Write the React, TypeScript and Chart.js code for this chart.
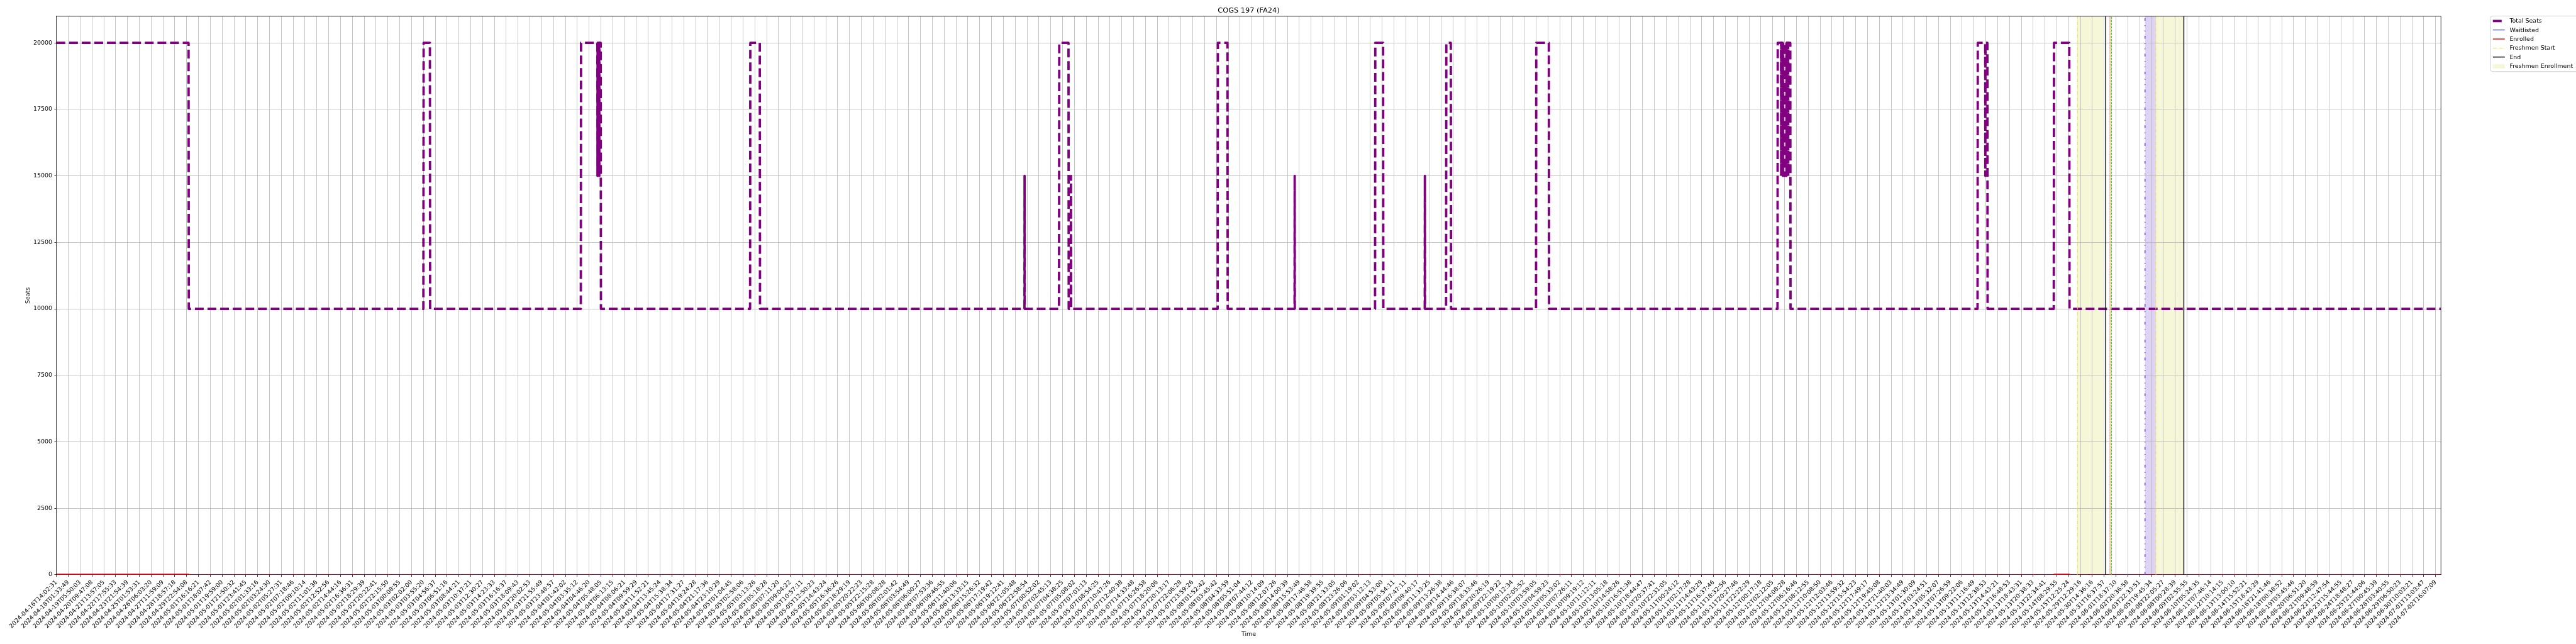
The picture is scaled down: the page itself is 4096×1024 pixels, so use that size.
import React, { useEffect, useRef } from "react";
import { Chart, registerables } from "chart.js";

Chart.register(...registerables);

// ---------------- data ----------------
const xTickLabels = [
  "2024-04-16T14:02:31", "2024-04-18T01:33:49", "2024-04-19T05:50:03", "2024-04-20T09:47:08",
  "2024-04-21T13:57:05", "2024-04-22T17:55:33", "2024-04-23T21:54:39", "2024-04-25T01:53:31",
  "2024-04-26T06:03:20", "2024-04-27T11:59:09", "2024-04-28T18:57:18", "2024-04-29T22:54:08",
  "2024-05-01T16:16:21", "2024-05-01T18:07:42", "2024-05-01T19:59:00", "2024-05-01T21:50:32",
  "2024-05-01T23:41:45", "2024-05-02T01:33:16", "2024-05-02T03:24:30", "2024-05-02T05:27:31",
  "2024-05-02T07:18:46", "2024-05-02T09:10:14", "2024-05-02T11:01:36", "2024-05-02T12:52:56",
  "2024-05-02T14:44:16", "2024-05-02T16:36:31", "2024-05-02T18:29:39", "2024-05-02T20:22:41",
  "2024-05-02T22:15:50", "2024-05-03T00:08:55", "2024-05-03T02:02:00", "2024-05-03T03:55:20",
  "2024-05-03T04:56:37", "2024-05-03T06:51:16", "2024-05-03T08:44:21", "2024-05-03T10:37:21",
  "2024-05-03T12:30:27", "2024-05-03T14:23:33", "2024-05-03T16:16:37", "2024-05-03T18:09:43",
  "2024-05-03T20:02:53", "2024-05-03T21:55:49", "2024-05-03T23:48:57", "2024-05-04T01:42:02",
  "2024-05-04T03:35:12", "2024-05-04T04:46:20", "2024-05-04T05:48:05", "2024-05-04T06:13:15",
  "2024-05-04T08:06:21", "2024-05-04T09:59:29", "2024-05-04T11:52:21", "2024-05-04T13:45:24",
  "2024-05-04T15:38:34", "2024-05-04T17:31:27", "2024-05-04T19:24:28", "2024-05-04T21:17:36",
  "2024-05-04T23:10:29", "2024-05-05T01:04:45", "2024-05-05T02:58:06", "2024-05-05T03:13:26",
  "2024-05-05T05:18:28", "2024-05-05T07:11:20", "2024-05-05T09:04:22", "2024-05-05T10:57:11",
  "2024-05-05T12:50:23", "2024-05-05T14:43:24", "2024-05-05T16:36:26", "2024-05-05T18:29:19",
  "2024-05-05T20:22:23", "2024-05-05T22:15:28", "2024-05-06T00:08:28", "2024-05-06T02:01:42",
  "2024-05-06T03:54:49", "2024-05-06T06:00:27", "2024-05-06T07:53:36", "2024-05-06T09:46:55",
  "2024-05-06T11:40:06", "2024-05-06T13:33:15", "2024-05-06T15:26:32", "2024-05-06T17:19:42",
  "2024-05-06T19:12:41", "2024-05-06T21:05:48", "2024-05-06T22:58:54", "2024-05-07T00:52:02",
  "2024-05-07T02:45:13", "2024-05-07T04:38:25", "2024-05-07T05:08:02", "2024-05-07T07:01:13",
  "2024-05-07T08:54:25", "2024-05-07T10:47:26", "2024-05-07T12:40:38", "2024-05-07T14:33:48",
  "2024-05-07T16:26:58", "2024-05-07T18:20:06", "2024-05-07T20:13:17", "2024-05-07T22:06:28",
  "2024-05-07T23:59:26", "2024-05-08T01:52:42", "2024-05-08T03:45:42", "2024-05-08T04:33:59",
  "2024-05-08T05:51:04", "2024-05-08T07:44:12", "2024-05-08T10:14:09", "2024-05-08T12:07:26",
  "2024-05-08T14:00:39", "2024-05-08T15:53:49", "2024-05-08T17:46:58", "2024-05-08T19:39:55",
  "2024-05-08T21:33:05", "2024-05-08T23:26:06", "2024-05-09T01:19:02", "2024-05-09T03:12:13",
  "2024-05-09T04:53:00", "2024-05-09T05:54:11", "2024-05-09T07:47:11", "2024-05-09T09:40:17",
  "2024-05-09T11:33:25", "2024-05-09T13:26:38", "2024-05-09T14:44:46", "2024-05-09T16:38:07",
  "2024-05-09T18:33:46", "2024-05-09T20:26:19", "2024-05-09T22:19:22", "2024-05-10T00:12:34",
  "2024-05-10T02:05:52", "2024-05-10T03:59:05", "2024-05-10T04:59:23", "2024-05-10T05:33:02",
  "2024-05-10T07:26:11", "2024-05-10T09:19:12", "2024-05-10T11:12:11", "2024-05-10T13:05:18",
  "2024-05-10T14:58:26", "2024-05-10T16:51:38", "2024-05-10T18:44:47", "2024-05-10T20:37:41",
  "2024-05-10T22:31:05", "2024-05-11T00:24:12", "2024-05-11T02:17:28", "2024-05-11T14:43:29",
  "2024-05-11T16:37:46", "2024-05-11T18:32:56", "2024-05-11T20:27:46", "2024-05-11T22:22:29",
  "2024-05-12T00:17:18", "2024-05-12T02:12:05", "2024-05-12T04:08:28", "2024-05-12T06:16:46",
  "2024-05-12T08:12:55", "2024-05-12T10:08:50", "2024-05-12T12:03:46", "2024-05-12T13:59:32",
  "2024-05-12T15:54:23", "2024-05-12T17:49:17", "2024-05-12T19:45:08", "2024-05-12T21:40:03",
  "2024-05-12T23:34:49", "2024-05-13T01:30:09", "2024-05-13T03:24:51", "2024-05-13T05:32:07",
  "2024-05-13T07:26:59", "2024-05-13T09:22:06", "2024-05-13T11:16:49", "2024-05-13T12:38:53",
  "2024-05-13T14:43:21", "2024-05-13T16:48:53", "2024-05-13T18:43:31", "2024-05-13T20:38:33",
  "2024-05-13T22:34:41", "2024-05-14T08:29:55", "2024-05-15T12:25:24", "2024-05-29T12:29:16",
  "2024-05-30T14:36:16", "2024-05-31T16:37:57", "2024-06-01T18:37:10", "2024-06-02T20:36:58",
  "2024-06-03T22:33:51", "2024-06-05T19:45:34", "2024-06-06T22:05:27", "2024-06-08T00:28:39",
  "2024-06-09T02:55:55", "2024-06-10T05:24:35", "2024-06-11T07:46:14", "2024-06-12T10:14:15",
  "2024-06-13T13:00:10", "2024-06-14T15:52:21", "2024-06-15T18:43:29", "2024-06-16T21:41:46",
  "2024-06-18T00:38:52", "2024-06-19T03:45:46", "2024-06-20T06:51:20", "2024-06-21T09:48:59",
  "2024-06-22T12:47:54", "2024-06-23T15:44:55", "2024-06-24T18:48:27", "2024-06-25T21:44:06",
  "2024-06-27T00:45:39", "2024-06-28T03:40:55", "2024-06-29T06:50:23", "2024-06-30T10:03:21",
  "2024-07-01T13:03:47", "2024-07-02T16:07:09",
];

const yTicks = [0, 2500, 5000, 7500, 10000, 12500, 15000, 17500, 20000];
const X_MAX = 201.45;
const Y_MAX = 21000;

// Total Seats (x in sample-index units of the tick grid)
const seatsX = [
  0, 11.16, 11.18, 31.0, 31.02, 31.55, 31.57, 44.3, 44.32, 45.7, 45.71, 45.72, 45.85, 45.86, 45.87, 45.98, 46.0,
  58.6, 58.62, 59.42, 59.44, 81.78, 81.79, 81.8, 84.7, 84.72, 85.5, 85.52, 85.7, 85.71, 85.72,
  98.1, 98.12, 98.93, 98.95, 104.6, 104.61, 104.62, 111.4, 111.42, 112.08, 112.1,
  115.6, 115.61, 115.62, 117.4, 117.42, 117.8, 117.82, 125.0, 125.02, 126.08, 126.1,
  145.4, 145.42, 145.7, 145.71, 145.72, 145.85, 145.86, 145.87, 146.0, 146.01, 146.02,
  146.15, 146.16, 146.17, 146.3, 146.31, 146.32, 146.48, 146.5,
  162.3, 162.32, 162.95, 162.96, 162.97, 163.13, 163.15, 168.74, 168.76, 170.05, 170.07, X_MAX,
];
const seatsY = [
  20000, 20000, 10000, 10000, 20000, 20000, 10000, 10000, 20000, 20000, 15000, 20000, 20000, 15000, 20000, 20000, 10000,
  10000, 20000, 20000, 10000, 10000, 15000, 10000, 10000, 20000, 20000, 10000, 10000, 15000, 10000,
  10000, 20000, 20000, 10000, 10000, 15000, 10000, 10000, 20000, 20000, 10000,
  10000, 15000, 10000, 10000, 20000, 20000, 10000, 10000, 20000, 20000, 10000,
  10000, 20000, 20000, 15000, 20000, 20000, 15000, 20000, 20000, 15000, 20000,
  20000, 15000, 20000, 20000, 15000, 20000, 20000, 10000,
  10000, 20000, 20000, 15000, 20000, 20000, 10000, 10000, 20000, 20000, 10000, 10000,
];

const waitlistedX = [0, X_MAX];
const waitlistedY = [0, 0];

const enrolledX = [0, 11.17, 11.19, 168.75, 168.77, 170.06, 170.08, X_MAX];
const enrolledY = [20, 20, 0, 0, 20, 20, 0, 0];

const freshmenStartX = [170.74, 177.36];
const endX = [173.13, 179.73];
const freshmenSpanStart = [170.74, 177.36];
const freshmenSpanEnd = [172.92, 179.71];
const orangeLineX = [173.49];
const greenLineX = [173.62];
const violetLineX = [176.45];
const salmonSpan = [173.43, 173.57];
const lavenderSpan = [176.45, 177.36];

// ---------------- styling ----------------
const S = 0.682;
const PT = 100 / 72;
const FONT = "DejaVu Sans";
const C_PURPLE = "#800080";
const C_YELLOW = "#e2e23c";
const C_SHADE = "#f6f6d8";
const C_LAVENDER = "#ded3f5";
const C_SALMON = "#f9d6c8";
const C_ORANGE = "#f07a3a";
const C_GREEN = "#3fcf22";
const C_VIOLET = "#6a32e0";

const pts = (xs: number[], ys: number[]) => xs.map((x, i) => ({ x, y: ys[i] }));
const vline = (x: number) => [{ x, y: 0 }, { x, y: Y_MAX }];

const LW = (p: number) => p * PT * S;

export default function App() {
  const ref = useRef<HTMLCanvasElement | null>(null);

  useEffect(() => {
    const canvas = ref.current;
    if (!canvas) return;

    const datasets: any[] = [];
    datasets.push({
      label: "Total Seats",
      data: pts(seatsX, seatsY),
      borderColor: C_PURPLE,
      borderWidth: LW(4),
      borderDash: [LW(4 * 3.7), LW(4 * 1.6)],
      borderJoinStyle: "round",
      pointRadius: 0,
      tension: 0,
      order: 100,
    });
    datasets.push({
      label: "Waitlisted",
      data: pts(waitlistedX, waitlistedY),
      borderColor: "blue",
      borderWidth: LW(1),
      pointRadius: 0,
      order: 99,
    });
    datasets.push({
      label: "Enrolled",
      data: pts(enrolledX, enrolledY),
      borderColor: "red",
      borderWidth: LW(1.5),
      pointRadius: 0,
      order: 98,
    });
    freshmenStartX.forEach((x) =>
      datasets.push({
        label: "Freshmen Start",
        data: vline(x),
        borderColor: C_YELLOW,
        borderWidth: LW(1),
        borderDash: [LW(6.4), LW(1.6), LW(1), LW(1.6)],
        pointRadius: 0,
        order: 90,
      })
    );
    endX.forEach((x) =>
      datasets.push({
        label: "End",
        data: vline(x),
        borderColor: "black",
        borderWidth: LW(1.5),
        pointRadius: 0,
        order: 89,
      })
    );
    orangeLineX.forEach((x) =>
      datasets.push({
        label: "_orange",
        data: vline(x),
        borderColor: C_ORANGE,
        borderWidth: LW(1),
        borderDash: [LW(1), LW(1.65)],
        pointRadius: 0,
        order: 88,
      })
    );
    greenLineX.forEach((x) =>
      datasets.push({
        label: "_green",
        data: vline(x),
        borderColor: C_GREEN,
        borderWidth: LW(1.2),
        borderDash: [LW(3.7), LW(1.6)],
        pointRadius: 0,
        order: 87,
      })
    );
    violetLineX.forEach((x) =>
      datasets.push({
        label: "_violet",
        data: vline(x),
        borderColor: C_VIOLET,
        borderWidth: LW(1.5),
        borderDash: [LW(4.5), LW(7.5), LW(1.5), LW(7.5), LW(1.5), LW(7.5)],
        pointRadius: 0,
        order: 86,
      })
    );

    const spans: [number, number, string][] = [
      [freshmenSpanStart[0], freshmenSpanEnd[0], C_SHADE],
      [freshmenSpanStart[1], freshmenSpanEnd[1], C_SHADE],
      [salmonSpan[0], salmonSpan[1], C_SALMON],
      [lavenderSpan[0], lavenderSpan[1], C_LAVENDER],
    ];

    const backgroundPlugin = {
      id: "bgShade",
      beforeDraw(chart: any) {
        const { ctx, chartArea } = chart;
        const xs = chart.scales.x;
        ctx.save();
        ctx.fillStyle = "#ffffff";
        ctx.fillRect(0, 0, chart.width, chart.height);
        spans.forEach(([a, b, c]) => {
          const x0 = xs.getPixelForValue(a);
          const x1 = xs.getPixelForValue(b);
          ctx.fillStyle = c;
          ctx.fillRect(x0, chartArea.top, x1 - x0, chartArea.bottom - chartArea.top);
        });
        ctx.restore();
      },
    };

    const legendItems = [
      { label: "Total Seats", kind: "line", color: C_PURPLE, width: LW(4), dash: [LW(4 * 3.7), LW(4 * 1.6)] },
      { label: "Waitlisted", kind: "line", color: "blue", width: LW(1), dash: [] },
      { label: "Enrolled", kind: "line", color: "red", width: LW(1.5), dash: [] },
      { label: "Freshmen Start", kind: "line", color: C_YELLOW, width: LW(1), dash: [LW(6.4), LW(1.6), LW(1), LW(1.6)] },
      { label: "End", kind: "line", color: "black", width: LW(1.5), dash: [] },
      { label: "Freshmen Enrollment", kind: "patch", color: C_SHADE, width: 0, dash: [] },
    ];

    const overlayPlugin = {
      id: "overlay",
      afterDraw(chart: any) {
        const { ctx, chartArea } = chart;
        ctx.save();
        // top and right spines
        ctx.strokeStyle = "#000";
        ctx.lineWidth = LW(0.8);
        ctx.beginPath();
        ctx.moveTo(chartArea.left, chartArea.top);
        ctx.lineTo(chartArea.right, chartArea.top);
        ctx.lineTo(chartArea.right, chartArea.bottom);
        ctx.stroke();

        // title
        const cx = (chartArea.left + chartArea.right) / 2;
        ctx.fillStyle = "#000";
        ctx.font = `${12 * PT * S}px "${FONT}"`;
        ctx.textAlign = "center";
        ctx.textBaseline = "alphabetic";
        ctx.fillText("COGS 197 (FA24)", cx, chartArea.top - 6 * PT * S);

        // axis labels
        ctx.font = `${10 * PT * S}px "${FONT}"`;
        ctx.fillText("Time", cx, 1482 * S);
        ctx.save();
        ctx.translate(69 * S, (chartArea.top + chartArea.bottom) / 2);
        ctx.rotate(-Math.PI / 2);
        ctx.textBaseline = "alphabetic";
        ctx.fillText("Seats", 0, 0);
        ctx.restore();

        // legend
        const lx = 5806.7 * S;
        const ly = 37.3 * S;
        const lh = (166.7 - 37.3) * S;
        const lw = 6100 * S - lx;
        const r = 4 * S;
        ctx.beginPath();
        ctx.moveTo(lx + r, ly);
        ctx.lineTo(lx + lw, ly);
        ctx.lineTo(lx + lw, ly + lh);
        ctx.lineTo(lx + r, ly + lh);
        ctx.arcTo(lx, ly + lh, lx, ly + lh - r, r);
        ctx.lineTo(lx, ly + r);
        ctx.arcTo(lx, ly, lx + r, ly, r);
        ctx.closePath();
        ctx.fillStyle = "rgba(255,255,255,0.8)";
        ctx.fill();
        ctx.strokeStyle = "#cccccc";
        ctx.lineWidth = LW(1);
        ctx.stroke();

        const hx0 = 5812 * S;
        const hlen = 27.8 * S;
        const tx = 5851 * S;
        const rowY = [49, 70, 91, 112, 133, 154];
        ctx.font = `${10 * PT * S}px "${FONT}"`;
        ctx.textAlign = "left";
        ctx.textBaseline = "middle";
        legendItems.forEach((it, i) => {
          const y = rowY[i] * S;
          if (it.kind === "line") {
            ctx.beginPath();
            ctx.setLineDash(it.dash);
            ctx.lineCap = "butt";
            ctx.strokeStyle = it.color;
            ctx.lineWidth = it.width;
            ctx.moveTo(hx0, y);
            ctx.lineTo(hx0 + hlen, y);
            ctx.stroke();
            ctx.setLineDash([]);
          } else {
            ctx.fillStyle = it.color;
            const h = 9.7 * S;
            ctx.fillRect(hx0, y - h / 2 + 0.5, hlen, h);
          }
          ctx.fillStyle = "#000";
          ctx.fillText(it.label, tx, y + 0.5);
        });
        ctx.restore();
      },
    };

    const chart = new Chart(canvas, {
      type: "line",
      data: { datasets },
      plugins: [backgroundPlugin, overlayPlugin],
      options: {
        animation: false,
        responsive: false,
        devicePixelRatio: 1,
        parsing: true,
        layout: {
          padding: { left: 0, top: 38 * S, right: 4096 - 5691 * S, bottom: 0 },
        },
        plugins: {
          legend: { display: false },
          title: { display: false },
          tooltip: { enabled: false },
        },
        elements: { line: { tension: 0 }, point: { radius: 0 } },
        scales: {
          x: {
            type: "linear",
            min: 0,
            max: X_MAX,
            afterBuildTicks: (scale: any) => {
              scale.ticks = xTickLabels.map((_, i) => ({ value: i }));
            },
            afterFit: (scale: any) => {
              scale.height = 1024 - 1340 * S;
            },
            ticks: {
              autoSkip: false,
              maxRotation: 45,
              minRotation: 45,
              padding: 3.5 * PT * S,
              color: "#000",
              font: { family: FONT, size: 10 * PT * S },
              callback: (v: any) => xTickLabels[Math.round(Number(v))] ?? "",
            },
            grid: {
              color: "#b0b0b0",
              lineWidth: LW(0.8),
              tickLength: 3.5 * PT * S,
              tickColor: "#000",
              tickWidth: LW(0.8),
            },
            border: { display: true, color: "#000", width: LW(0.8) },
          },
          y: {
            type: "linear",
            min: 0,
            max: Y_MAX,
            afterBuildTicks: (scale: any) => {
              scale.ticks = yTicks.map((v) => ({ value: v }));
            },
            afterFit: (scale: any) => {
              scale.width = 131.6 * S;
            },
            ticks: {
              padding: 3.5 * PT * S,
              color: "#000",
              font: { family: FONT, size: 10 * PT * S },
              callback: (v: any) => String(v),
            },
            grid: {
              color: "#b0b0b0",
              lineWidth: LW(0.8),
              tickLength: 3.5 * PT * S,
              tickColor: "#000",
              tickWidth: LW(0.8),
            },
            border: { display: true, color: "#000", width: LW(0.8) },
          },
        },
      } as any,
    });

    return () => chart.destroy();
  }, []);

  return (
    <div style={{ position: "fixed", left: 0, top: 0, width: 4096, height: 1024, background: "#fff" }}>
      <canvas ref={ref} width={4096} height={1024} style={{ width: 4096, height: 1024, display: "block" }} />
    </div>
  );
}
